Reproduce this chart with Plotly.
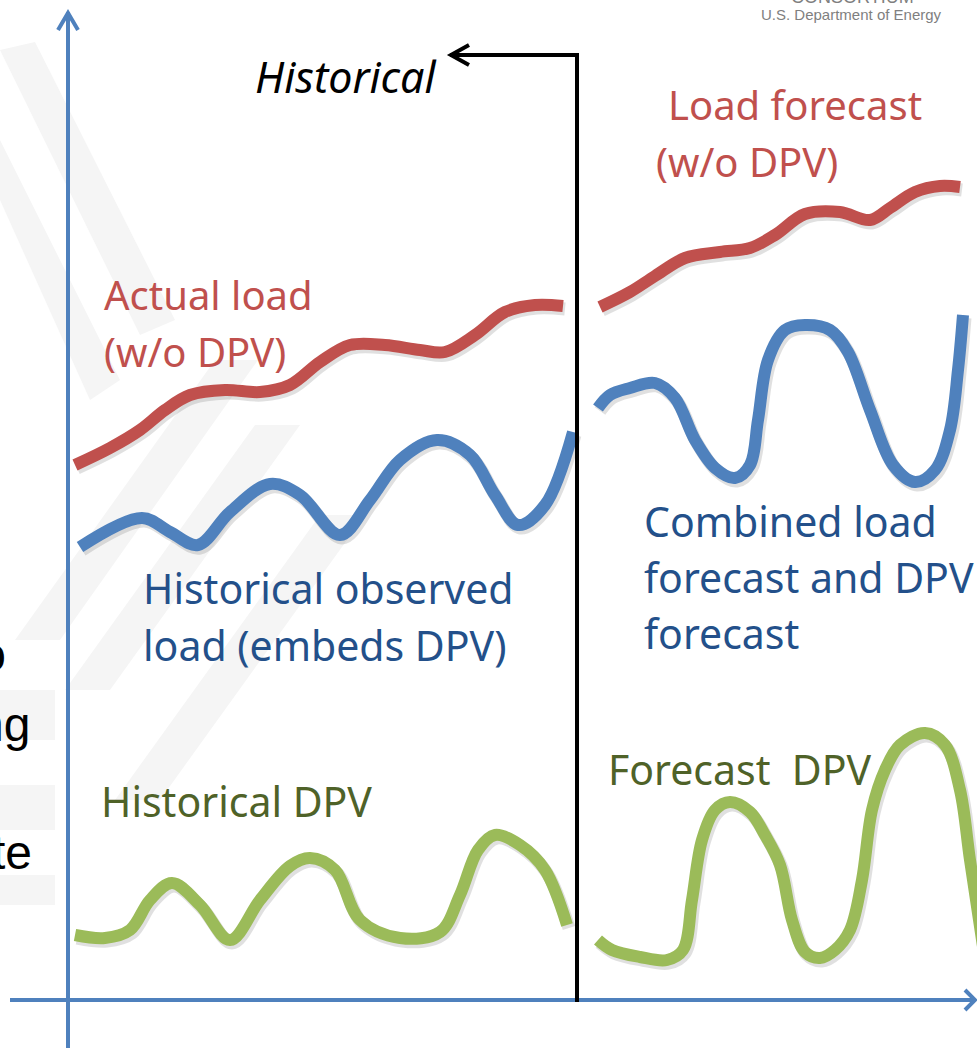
import plotly.graph_objects as go

W, H = 977, 1048

# ---- curve data (pixel-like units: x right, y down) ----
actual_load_x = [75, 110, 140, 165, 190, 225, 260, 290, 320, 350, 385, 420, 445, 475, 505, 535, 563]
actual_load_y = [465, 448, 430, 410, 395, 390, 392, 385, 362, 345, 345, 350, 352, 335, 312, 305, 306]

hist_obs_x = [80, 142, 170, 198, 230, 270, 300, 340, 370, 400, 437, 470, 495, 518, 545, 573]
hist_obs_y = [547, 518, 532, 545, 512, 484, 495, 535, 500, 460, 440, 455, 495, 525, 505, 432]

hist_dpv_x = [75, 105, 130, 150, 172, 200, 230, 260, 290, 310, 335, 360, 400, 440, 460, 478, 495, 520, 545, 567]
hist_dpv_y = [935, 938, 930, 900, 883, 905, 940, 900, 866, 858, 870, 920, 938, 932, 895, 850, 835, 845, 870, 925]

load_fc_x = [600, 630, 655, 685, 720, 750, 775, 805, 840, 870, 890, 915, 940, 960]
load_fc_y = [307, 292, 276, 258, 252, 248, 235, 214, 212, 220, 208, 192, 186, 187]

comb_fc_x = [598, 610, 630, 655, 675, 695, 715, 735, 750, 758, 768, 785, 805, 830, 848, 870, 893, 915, 935, 950, 958, 963]
comb_fc_y = [408, 395, 388, 383, 398, 440, 468, 478, 465, 420, 360, 330, 325, 330, 352, 410, 465, 482, 470, 430, 370, 315]

dpv_fc_x = [598, 612, 640, 667, 683, 692, 702, 715, 730, 750, 765, 780, 792, 805, 820, 835, 850, 862, 872, 885, 900, 925, 945, 960, 970, 985]
dpv_fc_y = [940, 950, 957, 960, 950, 900, 840, 810, 802, 812, 835, 865, 920, 952, 958, 950, 930, 880, 810, 770, 745, 733, 745, 790, 860, 960]

# ---- labels ----
labels_text = ["Historical", "Load forecast", "(w/o DPV)", "Actual load", "(w/o DPV)",
               "Historical observed", "load (embeds DPV)",
               "Combined load", "forecast and DPV", "forecast",
               "Historical DPV", "Forecast  DPV"]

RED = "#C0504D"
BLUE = "#4F81BD"
GREEN = "#9BBB59"
DBLUE = "#23508A"
DGREEN = "#4F6228"

fig = go.Figure()

# faint watermark stripes
wm = [
    [(0, 50), (35, 42), (175, 320), (140, 335)],
    [(0, 200), (0, 140), (120, 380), (90, 400)],
    [(215, 360), (258, 360), (60, 640), (15, 640)],
    [(255, 425), (300, 425), (110, 690), (65, 690)],
    [(320, 515), (365, 515), (160, 800), (115, 800)],
    [(0, 690), (55, 690), (55, 740), (0, 740)],
    [(0, 785), (55, 785), (55, 830), (0, 830)],
    [(0, 875), (55, 875), (55, 905), (0, 905)],
]
for poly in wm:
    path = "M " + " L ".join(f"{x},{y}" for x, y in poly) + " Z"
    fig.add_shape(type="path", path=path, fillcolor="#F5F5F5", line=dict(width=0), layer="below")

series = [
    (actual_load_x, actual_load_y, RED),
    (hist_obs_x, hist_obs_y, BLUE),
    (hist_dpv_x, hist_dpv_y, GREEN),
    (load_fc_x, load_fc_y, RED),
    (comb_fc_x, comb_fc_y, BLUE),
    (dpv_fc_x, dpv_fc_y, GREEN),
]
# soft shadows
for xs, ys, c in series:
    fig.add_trace(go.Scatter(x=[v + 2 for v in xs], y=[v + 3 for v in ys], mode="lines",
                             line=dict(color="rgba(0,0,0,0.12)", width=13, shape="spline", smoothing=1.0),
                             hoverinfo="skip", showlegend=False))
for xs, ys, c in series:
    fig.add_trace(go.Scatter(x=xs, y=ys, mode="lines",
                             line=dict(color=c, width=12, shape="spline", smoothing=1.0),
                             showlegend=False))

# axes lines
fig.add_shape(type="line", x0=68, y0=1048, x1=68, y1=12, line=dict(color=BLUE, width=4))
fig.add_shape(type="path", path="M 58,30 L 68,13 L 78,30", line=dict(color=BLUE, width=4))
fig.add_shape(type="line", x0=10, y0=1000, x1=974, y1=1000, line=dict(color=BLUE, width=4))
fig.add_shape(type="path", path="M 965,990 L 975,1000 L 965,1010", line=dict(color=BLUE, width=4))

# historical bracket arrow
fig.add_shape(type="path", path="M 577,1002 L 577,55 L 450,55", line=dict(color="black", width=4))
fig.add_shape(type="path", path="M 469,45 L 451,55 L 469,65", line=dict(color="black", width=4))

FONT = "Noto Sans"
ann = [
    (labels_text[0], 253, 76, "black", True, 43),
    (labels_text[1], 666, 104, RED, False, 40),
    (labels_text[2], 654, 161, RED, False, 40),
    (labels_text[3], 102, 294, RED, False, 40),
    (labels_text[4], 102, 351, RED, False, 40),
    (labels_text[5], 141, 588, DBLUE, False, 41),
    (labels_text[6], 141, 645, DBLUE, False, 41),
    (labels_text[7], 642, 521, DBLUE, False, 41),
    (labels_text[8], 642, 577, DBLUE, False, 41),
    (labels_text[9], 642, 633, DBLUE, False, 41),
    (labels_text[10], 99, 801, DGREEN, False, 41),
    (labels_text[11], 606, 769, DGREEN, False, 41),
]
for txt, x, y, col, ital, sz in ann:
    t = f"<i>{txt}</i>" if ital else txt
    fig.add_annotation(x=x, y=y, text=t, showarrow=False, xanchor="left", yanchor="middle",
                       font=dict(family=FONT, size=sz, color=col))

# cut-off texts
fig.add_annotation(x=852 / W, y=1 + 3 / H, xref="paper", yref="paper", text="CONSORTIUM",
                   showarrow=False, xanchor="center", yanchor="middle",
                   font=dict(family="Liberation Sans", size=18, color="#7f7f7f"))
fig.add_annotation(x=851, y=14, text="U.S. Department of Energy", showarrow=False, xanchor="center",
                   yanchor="middle", font=dict(family="Liberation Sans", size=15, color="#7f7f7f"))
for txt, x, y in [("to", 8, 654), ("ng", 32, 724), ("te", 34, 852)]:
    fig.add_annotation(x=x, y=y, text=txt, showarrow=False, xanchor="right", yanchor="middle",
                       font=dict(family="Liberation Sans", size=48, color="black"))

fig.update_layout(
    width=W, height=H, margin=dict(l=0, r=0, t=0, b=0),
    paper_bgcolor="white", plot_bgcolor="white",
    xaxis=dict(range=[0, W], visible=False, fixedrange=True),
    yaxis=dict(range=[H, 0], visible=False, fixedrange=True),
    showlegend=False,
)
fig.write_html("out.html", config={"displayModeBar": False},
               post_script="document.body.style.margin='0';document.body.style.overflow='hidden';")
